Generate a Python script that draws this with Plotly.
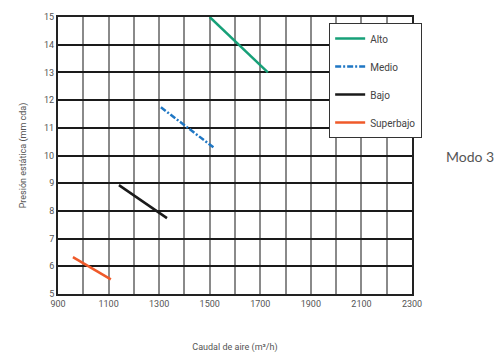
import plotly.graph_objects as go

series_names = ["Alto", "Medio", "Bajo", "Superbajo"]
alto_x = [1500, 1730]
alto_y = [15.0, 13.0]
medio_x = [1307, 1520]
medio_y = [11.74, 10.26]
bajo_x = [1141, 1331]
bajo_y = [8.93, 7.74]
superbajo_x = [959, 1109]
superbajo_y = [6.33, 5.53]
x_ticks = [900, 1100, 1300, 1500, 1700, 1900, 2100, 2300]
y_ticks = [5, 6, 7, 8, 9, 10, 11, 12, 13, 14, 15]

colors = ["#17a078", "#1f77c4", "#1a1a1a", "#ef5a2a"]
dashes = ["solid", "6px,2px,2px,2px", "solid", "solid"]
xs = [alto_x, medio_x, bajo_x, superbajo_x]
ys = [alto_y, medio_y, bajo_y, superbajo_y]

FONT = "Roboto, sans-serif"

fig = go.Figure()
for name, x, y, c, d in zip(series_names, xs, ys, colors, dashes):
    fig.add_trace(go.Scatter(x=x, y=y, mode="lines", name=name, legendgroup=name,
                             line=dict(color=c, width=2.5, dash=d)))

fig.update_layout(
    width=503, height=363,
    margin=dict(l=58, r=91, t=13, b=65),
    paper_bgcolor="white", plot_bgcolor="white",
    font=dict(family=FONT, size=10, color="#555555"),
    showlegend=True,
    legend=dict(x=0.766, y=0.978, xanchor="left", yanchor="top",
                bgcolor="white", bordercolor="#333333", borderwidth=1,
                font=dict(family=FONT, size=10, color="#444444"),
                tracegroupgap=9, itemwidth=30),
    xaxis=dict(range=[900, 2300], tickvals=x_ticks, ticks="", showgrid=True,
               gridcolor="#8a8a8a", gridwidth=1.5,
               minor=dict(dtick=100, showgrid=True, gridcolor="#8a8a8a", gridwidth=1.5),
               showline=True, linecolor="#222222", linewidth=2, mirror=True,
               zeroline=False,
               title=dict(text="Caudal de aire (m³/h)", standoff=36,
                          font=dict(family=FONT, size=9, color="#555555")),
               tickfont=dict(family=FONT, size=9, color="#555555")),
    yaxis=dict(range=[5, 15], tickvals=y_ticks, ticks="", showgrid=True,
               gridcolor="#1a1a1a", gridwidth=1.5,
               showline=True, linecolor="#222222", linewidth=2, mirror=True,
               zeroline=False,
               title=dict(text="Presión estática (mm cda)", standoff=16,
                          font=dict(family=FONT, size=9, color="#555555")),
               tickfont=dict(family=FONT, size=9, color="#555555")),
)

fig.add_annotation(text="Modo 3", xref="paper", yref="paper", x=1.09, y=0.497,
                   xanchor="left", yanchor="middle", showarrow=False,
                   font=dict(family="Lato, Noto Sans, sans-serif", size=14, color="#555555"))

fig.write_html("out.html", config={"displayModeBar": False},
               post_script="document.body.style.margin='0';document.body.style.overflow='hidden';")
